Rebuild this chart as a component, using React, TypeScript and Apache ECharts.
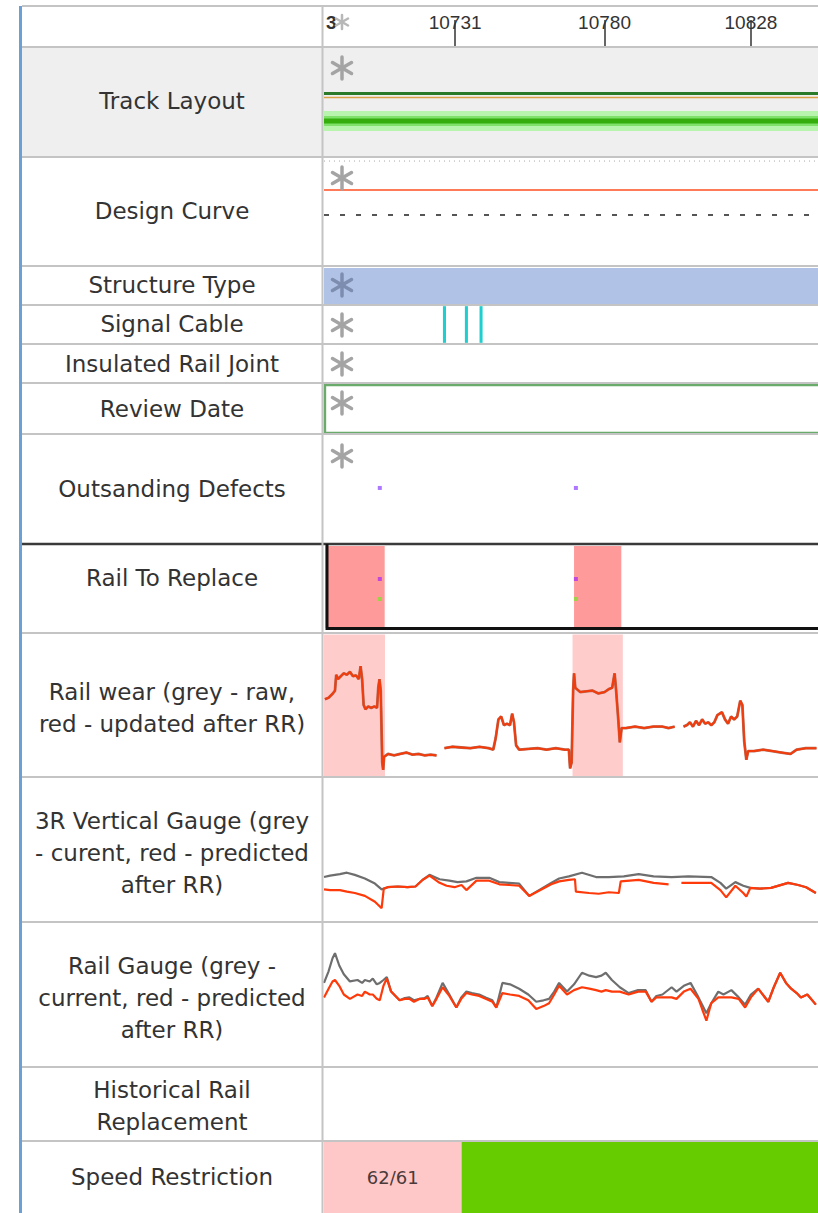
import React, { useEffect, useRef } from "react";
import * as echarts from "echarts";

// ---------- axis range & ticks ----------
const X_MIN = 10688;
const X_MAX = 10850;
const tickValues = [10731, 10780, 10828];

// ---------- row labels ----------
const rowLabels = [
  "",
  "Track Layout",
  "Design Curve",
  "Structure Type",
  "Signal Cable",
  "Insulated Rail Joint",
  "Review Date",
  "Outsanding Defects",
  "Rail To Replace",
  "Rail wear (grey - raw,\nred - updated after RR)",
  "3R Vertical Gauge (grey\n- curent, red - predicted\nafter RR)",
  "Rail Gauge (grey -\ncurrent, red - predicted\nafter RR)",
  "Historical Rail\nReplacement",
  "Speed Restriction",
];

// ---------- data ----------
// Track layout levels (relative height in row)
const trackMainLevel = 57.7;
const trackEdgeLevel = 54.1;
const trackRailLevel = 32.7;
// Design curve levels
const curveDottedLevel = 96.3;
const curveDesignLevel = 69.7;
const curveDashedLevel = 46.8;
// Structure type extent [x0, x1, y0, y1]
const structureSpans = [[10688, 10850, 0, 95]];
// Signal cable positions [x0, x1, y0, y1]
const signalCables = [
  [10727.0, 10728.0, 3, 97],
  [10734.2, 10735.2, 3, 97],
  [10739.0, 10740.0, 3, 97],
];
// Review date span
const reviewSpans = [[10688.3, 10852, 2, 96]];
// Outstanding defects
const defects = [
  [10706.3, 50.5],
  [10770.6, 50.5],
];
// Rail to replace
const railToReplace = [
  [10688.5, 10707.9, 5.6, 96.7],
  [10770.0, 10785.5, 5.6, 96.7],
];
const rtrPurple = [
  [10706.3, 60],
  [10770.6, 60],
];
const rtrGreen = [
  [10706.3, 37.8],
  [10770.6, 37.8],
];
// Rail wear
const railWearBands = [
  [10688, 10708, 0, 99],
  [10769.5, 10786, 0, 99],
];
const railWearUpdated = [
  [10688.3, 54], [10689.5, 55], [10690.9, 58], [10691.6, 60], [10692.0, 71], [10692.6, 68], [10693.5, 70], [10694.5, 72],
  [10695.5, 71], [10696.5, 73], [10697.5, 70], [10698.5, 70.5], [10699.4, 68], [10700.0, 77], [10700.5, 68], [10701.0, 50],
  [10701.6, 47], [10702.5, 49], [10703.5, 48], [10704.5, 49], [10705.4, 48], [10705.8, 62], [10706.2, 68], [10706.6, 60],
  [10707.1, 10], [10707.4, 5], [10707.7, 14], [10709, 16], [10711, 15], [10713, 16], [10715, 17], [10717, 15.5],
  [10719, 16], [10721, 15], [10723, 15.5], [10724.9, 15],
  [10726, "-"],
  [10727.5, 20], [10730, 21], [10733, 20.5], [10736, 20], [10739, 21], [10742, 20], [10743.5, 19], [10744.3, 27],
  [10745.2, 40], [10746.1, 42], [10747, 36], [10748, 37], [10749, 36], [10749.7, 44], [10750.3, 38], [10751, 22],
  [10752, 19], [10755, 19.5], [10758, 20], [10761, 19], [10764, 20], [10767, 19], [10768.3, 19], [10768.7, 6],
  [10769.2, 10], [10769.7, 60], [10770.0, 72], [10770.4, 62], [10772, 59], [10774, 59.5], [10776, 60], [10778, 58],
  [10780, 59], [10781.4, 61], [10782.5, 62], [10783.3, 72], [10783.8, 60], [10784.5, 40], [10785, 24], [10785.6, 34],
  [10787, 34], [10790, 35], [10793, 34], [10796, 35], [10799, 35], [10801, 34], [10803, 35],
  [10804.5, "-"],
  [10805.9, 35], [10807, 36], [10808, 38], [10809, 35], [10810, 39], [10811, 36], [10812, 40], [10813, 37],
  [10814, 38], [10815, 36], [10816, 38], [10817, 43], [10818.5, 45], [10819.5, 40], [10820.5, 37], [10821.5, 42],
  [10822.5, 40], [10823.5, 42], [10824.5, 53], [10825.2, 50], [10825.8, 25], [10826.5, 12], [10827.1, 18], [10829, 18],
  [10832, 19], [10835, 18], [10838, 17], [10841, 16], [10843, 19], [10846, 20], [10849.5, 20],
];
const railWearRaw = railWearUpdated;
// 3R vertical gauge
const vGaugeCurrent = [
  [10688.0, 31], [10690.0, 32], [10693.2, 33], [10695.5, 34], [10698.1, 32.5], [10701.4, 30], [10704.7, 26.5],
  [10706.9, 22.5], [10708.9, 24], [10712.2, 24.5], [10715.4, 24], [10718.0, 24.5], [10720.3, 29], [10722.6, 32.5],
  [10725.9, 29.5], [10729.1, 28.5], [10731.8, 27.5], [10734.7, 28], [10738.0, 30.5], [10742.2, 30.5], [10745.5, 27.5],
  [10748.7, 27], [10752.0, 26.5], [10755.3, 18], [10758.5, 22], [10762.5, 27], [10765.1, 30], [10768.3, 31.5],
  [10772.6, 34], [10777.2, 31], [10781.4, 31], [10786.3, 31.5], [10791.2, 33], [10796.1, 31.5], [10802.0, 31],
  [10807.5, 31.5], [10815.0, 31], [10818.0, 27], [10819.9, 23], [10822.9, 27.5], [10825.5, 25], [10827.8, 23.5],
  [10831.0, 23], [10834.6, 23.5], [10840.2, 27], [10843.5, 25.5], [10846.1, 24], [10849.3, 20],
];
const vGaugePredicted = [
  [10688.0, 22.5], [10690.0, 22], [10693.2, 22], [10695.5, 21], [10698.1, 20], [10701.4, 18], [10704.7, 14],
  [10706.9, 9.5], [10707.6, 23], [10708.9, 24], [10712.2, 24.5], [10715.4, 24], [10718.0, 24.5], [10720.3, 29],
  [10722.6, 32], [10725.9, 27], [10728.2, 25], [10730.8, 24], [10733.1, 25.5], [10734.7, 22], [10738.0, 28.5],
  [10742.2, 28.5], [10745.5, 26], [10748.7, 25.5], [10752.0, 25], [10755.3, 18], [10758.5, 21.5], [10762.5, 26],
  [10765.1, 28], [10768.3, 29], [10770.3, 29.5], [10770.6, 21], [10774.9, 20], [10778.1, 19.5], [10781.4, 20.5],
  [10784.7, 20], [10785.3, 28], [10791.2, 29], [10796.1, 27], [10801.0, 26],
  [10803.0, "-"],
  [10805.2, 27], [10810.8, 27], [10815.0, 27], [10818.0, 22], [10819.9, 17], [10822.9, 25], [10825.5, 20],
  [10826.5, 17.5], [10827.8, 23.5], [10831.0, 23], [10834.6, 23.5], [10840.2, 27], [10843.5, 25.5], [10846.1, 24],
  [10849.3, 20],
];
// Rail gauge
const gaugeCurrent = [
  [10688.0, 58], [10689.5, 66], [10690.8, 75], [10691.6, 78.5], [10693, 70], [10694.5, 64], [10696.5, 59], [10699, 60],
  [10700.5, 58], [10701.4, 60], [10703, 59], [10704, 61], [10705.3, 57], [10706.3, 58], [10707.5, 60], [10708.6, 62],
  [10710, 52], [10712.8, 46], [10714.5, 47.5], [10716, 48], [10717.5, 46], [10719.4, 47], [10721, 47.5], [10722, 49],
  [10723.5, 42], [10724.9, 48], [10726.9, 58], [10729.1, 50], [10731.4, 41], [10733, 48], [10734.7, 52], [10736.5, 51],
  [10738.9, 50], [10741, 48], [10743.2, 46], [10744.5, 41], [10746.5, 58], [10749, 57], [10752.0, 54], [10755, 50],
  [10757.6, 45], [10760, 46], [10761.8, 47], [10763.5, 52], [10765.1, 58], [10767.7, 52], [10770, 57], [10772.6, 65],
  [10775, 63], [10777.2, 62], [10779, 63], [10780.4, 65], [10782.4, 60], [10785, 55], [10787.9, 51], [10791, 53],
  [10793.5, 53], [10795.4, 45], [10797, 49], [10799, 50], [10802.0, 55], [10803.6, 52], [10806, 56], [10808.2, 58],
  [10810.8, 48], [10812, 43], [10813.4, 37], [10815, 44], [10817.3, 52], [10819, 50], [10821.6, 53], [10824, 48],
  [10826.1, 43], [10828, 50], [10830.4, 54], [10833.7, 45], [10835.5, 55], [10837.6, 65], [10839.5, 58], [10841.2, 54],
  [10843, 51], [10844.4, 48], [10846.5, 50], [10849.3, 43],
];
const gaugePredicted = [
  [10688.0, 48], [10689.5, 54], [10690.8, 59], [10691.6, 60], [10693, 56], [10694.5, 50], [10696.5, 47], [10699, 50],
  [10700.5, 49], [10701.4, 52], [10703, 50], [10704, 50], [10705.3, 47], [10706.3, 46], [10707.5, 56], [10708.6, 61],
  [10710, 52], [10712.8, 46], [10714.5, 47], [10716, 47], [10717.5, 45], [10719.4, 47], [10721, 47], [10722, 48],
  [10723.5, 42], [10724.9, 47], [10726.9, 55], [10729.1, 49], [10731.4, 41], [10733, 47], [10734.7, 51], [10736.5, 50],
  [10738.9, 49], [10741, 47], [10743.2, 45], [10744.5, 41], [10746.5, 51], [10749, 50], [10752.0, 49], [10755, 46],
  [10757.6, 40], [10760, 42], [10761.8, 44], [10763.5, 50], [10765.1, 56], [10767.7, 50], [10770, 53], [10772.6, 55],
  [10775, 54], [10777.2, 53], [10779, 52], [10780.4, 53], [10782.4, 52], [10785, 52], [10787.9, 50], [10791, 52],
  [10793.5, 52], [10795.4, 45], [10797, 48], [10799, 48], [10802.0, 48], [10803.6, 47], [10806, 52], [10808.2, 54],
  [10810.8, 47], [10812, 40], [10813.4, 32], [10815, 44], [10817.3, 48], [10819, 48], [10821.6, 48], [10824, 47],
  [10826.1, 41], [10828, 48], [10830.4, 54], [10833.7, 45], [10835.5, 55], [10837.6, 65], [10839.5, 58], [10841.2, 54],
  [10843, 51], [10844.4, 48], [10846.5, 50], [10849.3, 43],
];
// Speed restriction
const speedSpans = [
  [10688, 10733.1, 0, 100],
  [10733.1, 10852, 0, 100],
];
const speedLabels = ["62/61", ""];

// ---------- layout ----------
const ROW_Y = [6, 47, 157, 266, 305, 344, 383, 434, 543, 633, 777, 922, 1067, 1141, 1213];
const LABEL_CENTER_Y = [26, 101, 211, 285, 324, 364, 409, 489, 578, 708, 853, 998, 1106, 1177];
const ASTERISK_ROWS = [1, 2, 3, 4, 5, 6, 7];
const ASTERISK_Y = [0, 68, 178, 285, 325, 364, 403, 456];
const PLOT_LEFT = 324;
const PLOT_WIDTH = 496;

function rectSeries(gridIndex: number, data: number[][], style: any, labels?: string[]) {
  return {
    type: "custom",
    xAxisIndex: gridIndex,
    yAxisIndex: gridIndex,
    silent: true,
    data,
    renderItem: (params: any, api: any) => {
      const p0 = api.coord([api.value(0), api.value(3)]);
      const p1 = api.coord([api.value(1), api.value(2)]);
      const rect = {
        type: "rect",
        shape: { x: p0[0], y: p0[1], width: p1[0] - p0[0], height: p1[1] - p0[1] },
        style: { ...style },
      };
      const lbl = labels ? labels[params.dataIndex] : "";
      if (!lbl) return rect;
      return {
        type: "group",
        children: [
          rect,
          {
            type: "text",
            x: (p0[0] + p1[0]) / 2,
            y: (p0[1] + p1[1]) / 2,
            style: {
              text: lbl,
              align: "center",
              verticalAlign: "middle",
              fontSize: 18,
              fontFamily: "DejaVu Sans",
              fill: "#4a3a3a",
            },
          },
        ],
      };
    },
  };
}

function lineSeries(gridIndex: number, data: any[], color: string, width: number, type: any = "solid", opacity = 1) {
  return {
    type: "line",
    xAxisIndex: gridIndex,
    yAxisIndex: gridIndex,
    data,
    symbol: "none",
    showSymbol: false,
    silent: true,
    connectNulls: false,
    lineStyle: { color, width, type, opacity },
  };
}

function levelLine(gridIndex: number, level: number, color: string, width: number, type: any = "solid", opacity = 1) {
  return lineSeries(gridIndex, [[X_MIN, level], [X_MAX, level]], color, width, type, opacity);
}

function dotSeries(gridIndex: number, data: number[][], color: string) {
  return {
    type: "scatter",
    xAxisIndex: gridIndex,
    yAxisIndex: gridIndex,
    data,
    symbol: "rect",
    symbolSize: 4,
    silent: true,
    itemStyle: { color },
  };
}

function asterisk(cx: number, cy: number, r: number, color: string, w: number) {
  const dx = r * Math.cos(Math.PI / 6);
  const dy = r * Math.sin(Math.PI / 6);
  const st = { stroke: color, lineWidth: w, lineCap: "round" };
  return [
    { type: "line", silent: true, z: 60, shape: { x1: cx, y1: cy - r, x2: cx, y2: cy + r }, style: st },
    { type: "line", silent: true, z: 60, shape: { x1: cx - dx, y1: cy - dy, x2: cx + dx, y2: cy + dy }, style: st },
    { type: "line", silent: true, z: 60, shape: { x1: cx - dx, y1: cy + dy, x2: cx + dx, y2: cy - dy }, style: st },
  ];
}

function buildOption() {
  const nRows = ROW_Y.length - 1;
  const grids: any[] = [];
  const xAxes: any[] = [];
  const yAxes: any[] = [];
  for (let i = 0; i < nRows; i++) {
    grids.push({ left: PLOT_LEFT, width: PLOT_WIDTH, top: ROW_Y[i], height: ROW_Y[i + 1] - ROW_Y[i] });
    const isHeader = i === 0;
    xAxes.push({
      type: "value",
      gridIndex: i,
      min: X_MIN,
      max: X_MAX,
      show: isHeader,
      position: "bottom",
      axisLine: { show: false },
      splitLine: { show: false },
      axisTick: {
        show: isHeader,
        inside: true,
        length: 27,
        customValues: tickValues,
        lineStyle: { color: "#333", width: 1.5 },
      },
      axisLabel: {
        show: isHeader,
        inside: true,
        margin: 15,
        customValues: tickValues,
        fontSize: 19,
        fontFamily: "Liberation Sans",
        color: "#333",
        formatter: (v: number) => String(v),
      },
    });
    yAxes.push({ type: "value", gridIndex: i, min: 0, max: 100, show: false, splitLine: { show: false } });
  }

  const series: any[] = [
    // Track layout
    levelLine(1, trackRailLevel, "#b8f4ae", 20),
    levelLine(1, trackRailLevel, "#7fe06a", 10),
    levelLine(1, trackRailLevel, "#35ad0c", 5),
    levelLine(1, trackMainLevel, "#2a7a2a", 3),
    levelLine(1, trackEdgeLevel, "#d9a244", 1.5),
    // Design curve
    levelLine(2, curveDottedLevel, "#aaaaaa", 1, [1, 4]),
    levelLine(2, curveDesignLevel, "#ff7a58", 2),
    levelLine(2, curveDashedLevel, "#555555", 2, [5, 11]),
    // Structure type
    rectSeries(3, structureSpans, { fill: "#b0c3e6" }),
    // Signal cable
    rectSeries(4, signalCables, { fill: "#1fcfcf" }),
    // Review date
    rectSeries(6, reviewSpans, { fill: "none", stroke: "#6aaa6a", lineWidth: 2.5 }),
    // Outstanding defects
    dotSeries(7, defects, "#9955ff"),
    // Rail to replace
    rectSeries(8, railToReplace, { fill: "#ff9a9a" }),
    dotSeries(8, rtrPurple, "#b033ee"),
    dotSeries(8, rtrGreen, "#88dd33"),
    // Rail wear
    rectSeries(9, railWearBands, { fill: "#ffcccc" }),
    lineSeries(9, railWearRaw, "#b07060", 2.8),
    lineSeries(9, railWearUpdated, "#f23c0c", 2),
    // 3R vertical gauge
    lineSeries(10, vGaugeCurrent, "#6e6e6e", 2.2),
    lineSeries(10, vGaugePredicted, "#ff3a0a", 2.2),
    // Rail gauge
    lineSeries(11, gaugeCurrent, "#6e6e6e", 2.2),
    lineSeries(11, gaugePredicted, "#ff3a0a", 2.2),
    // Speed restriction
    rectSeries(13, [speedSpans[0]], { fill: "#ffc8c8" }, [speedLabels[0]]),
    rectSeries(13, [speedSpans[1]], { fill: "#66cc00" }),
  ];

  const graphics: any[] = [];
  // Track layout row background
  graphics.push({ type: "rect", z: -1, silent: true, shape: { x: 22, y: 47, width: 796, height: 110 }, style: { fill: "#efefef" } });
  // Row separators
  ROW_Y.slice(0, ROW_Y.length - 1).forEach((y, i) => {
    if (i === 8) return;
    graphics.push({ type: "line", z: 50, silent: true, shape: { x1: 22, y1: y, x2: 818, y2: y }, style: { stroke: "#c4c4c4", lineWidth: 2 } });
  });
  // Rail to replace frame
  graphics.push({ type: "line", z: 50, silent: true, shape: { x1: 22, y1: 544, x2: 818, y2: 544 }, style: { stroke: "#3a3a3a", lineWidth: 2.5 } });
  graphics.push({ type: "line", z: 51, silent: true, shape: { x1: 327, y1: 544, x2: 327, y2: 630 }, style: { stroke: "#111", lineWidth: 3 } });
  graphics.push({ type: "line", z: 51, silent: true, shape: { x1: 326, y1: 628.5, x2: 818, y2: 628.5 }, style: { stroke: "#111", lineWidth: 3 } });
  // Column divider and left border
  graphics.push({ type: "line", z: 50, silent: true, shape: { x1: 322.5, y1: 6, x2: 322.5, y2: 1213 }, style: { stroke: "#c4c4c4", lineWidth: 2 } });
  graphics.push({ type: "line", z: 50, silent: true, shape: { x1: 20.5, y1: 6, x2: 20.5, y2: 1213 }, style: { stroke: "#6c9fd6", lineWidth: 3 } });
  // Row labels
  rowLabels.forEach((t, i) => {
    if (!t) return;
    graphics.push({
      type: "text",
      z: 60,
      silent: true,
      x: 172,
      y: LABEL_CENTER_Y[i],
      style: {
        text: t,
        align: "center",
        verticalAlign: "middle",
        fontSize: 23,
        lineHeight: 32,
        fontFamily: "DejaVu Sans",
        fill: "#333333",
      },
    });
  });
  // Header: truncated label + asterisk
  graphics.push({
    type: "text",
    z: 60,
    silent: true,
    x: 326,
    y: 22,
    style: { text: "3", align: "left", verticalAlign: "middle", fontSize: 19, fontFamily: "Liberation Sans", fill: "#333", fontWeight: "bold" },
  });
  graphics.push(...asterisk(342, 22, 7, "#b8b8b8", 2.5));
  ASTERISK_ROWS.forEach((r) => {
    graphics.push(...asterisk(342, ASTERISK_Y[r], 11, r === 3 ? "#7d8db0" : "#a4a4a4", 3.5));
  });

  return {
    animation: false,
    backgroundColor: "#ffffff",
    grid: grids,
    xAxis: xAxes,
    yAxis: yAxes,
    series,
    graphic: graphics,
  };
}

export default function App() {
  const ref = useRef<HTMLDivElement>(null);
  useEffect(() => {
    if (!ref.current) return;
    const chart = echarts.init(ref.current, undefined, { renderer: "svg" });
    chart.setOption(buildOption() as any);
    return () => chart.dispose();
  }, []);
  return <div ref={ref} style={{ position: "absolute", left: 0, top: 0, width: 818, height: 1213 }} />;
}
